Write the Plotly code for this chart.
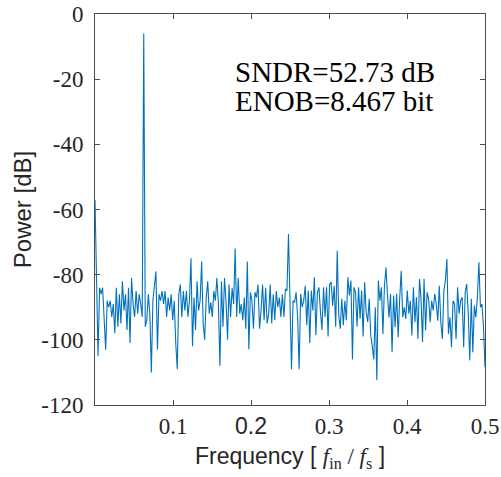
import plotly.graph_objects as go
import numpy as np

# Power spectrum values [dB] (bins 0..256)
power_a = [-57, -87, -105, -84, -86, -84, -96, -103, -88, -90, -88, -93, -89, -98, -84, -96,
           -86, -95, -82, -91, -86, -97, -84, -101, -81, -89, -93, -85, -92, -86, -89, -93,
           -6, -96, -94, -86, -92, -110, -88, -84, -79, -103, -86, -88, -85, -89, -85, -93,
           -87, -91, -86, -94, -88, -101, -109, -86, -83, -93, -85, -91, -85, -93, -88]
power_b = [-75, -102, -87, -97, -82, -91, -88, -76, -95, -100, -87, -82, -92, -88.5, -93, -85,
           -88, -81, -89, -108, -82, -96, -81, -88, -100, -83, -93, -84, -89, -72, -93, -81,
           -92, -89, -94, -87, -96.6, -76, -103, -85.4, -88, -96.6, -85.4, -87, -83, -96.6, -91, -83,
           -94, -84, -95, -92, -83, -95, -86, -94, -85, -90, -87, -93, -86]
power_c = [-93, -84.4, -84.9, -67.5, -90.5, -109, -88, -88.5, -85.4, -93, -109, -85.9, -90, -88, -83.4, -95.5,
           -84.9, -101, -84.9, -91, -80.8, -98.6, -85.4, -83.9, -91.5, -97, -83.9, -93, -83.9, -99, -82.9, -82.3,
           -89.5, -83.4, -96, -72.7, -92.5, -96.6, -87.4, -95.5, -88, -94, -80.8, -86.4, -81.8, -106, -83.9, -85.4,
           -96, -83.9, -93.5, -84.9, -99, -82.3, -91.5, -94.5, -87.4, -98.6, -102, -106, -90, -112.4, -81.8, -88]
power_d = [-83.9, -98.2, -83.4, -77.8, -86.4, -93.1, -85.9, -103.8, -86.4, -96.1, -85.9, -99.2, -87.4, -78.8, -93.1, -90,
           -93.6, -84.9, -92, -88, -98.7, -83.9, -94.6, -86.9, -99.7, -81.3, -87.4, -100.7, -81.3, -97.1, -85.4, -87.4,
           -94.6, -88, -91, -85.9, -89, -94.1, -83.4, -94.6, -99.7, -84.9, -81.8, -75.2, -98.2, -93.1, -102.3, -88,
           -89, -99.7, -83.9, -92, -88, -86.9, -102.3, -85.4, -82.9, -92, -106.3, -87.4, -103.8, -89.5, -93.1, -86.9,
           -76.2, -90, -89, -96.1, -108.4]
power = power_a + power_b + power_c + power_d
nfft_half = 512  # bins per unit of normalized frequency
freq = np.arange(len(power)) / nfft_half

x_tickvals = [0.1, 0.2, 0.3, 0.4, 0.5]
x_ticktext = ["0.1", "<span style='font-family:Liberation Sans, Arial'>0.2</span>", "0.3", "0.4", "0.5"]
y_tickvals = [0, -20, -40, -60, -80, -100, -120]
y_ticktext = ["0", "-20", "-40", "-60", "-80", "-100", "-120"]

serif = "Liberation Serif, Times New Roman, serif"
sans = "Liberation Sans, Arial, sans-serif"
axcol = "#4d4d4d"

fig = go.Figure()
fig.add_trace(go.Scatter(x=freq, y=power, mode="lines",
                         line=dict(color="#0072BD", width=1.1), showlegend=False))

fig.update_layout(
    width=501, height=477,
    margin=dict(l=95, r=16, t=14, b=72),
    plot_bgcolor="white", paper_bgcolor="white",
    font=dict(family=serif, size=23, color="#262626"),
    xaxis=dict(range=[0, 0.5], tickvals=x_tickvals, ticktext=x_ticktext, automargin=False,
               ticks="inside", ticklen=5, tickcolor=axcol, mirror="ticks", ticklabeloverflow="allow",
               showline=True, linecolor=axcol, linewidth=1, showgrid=False, zeroline=False,
               tickfont=dict(family=serif, size=23, color="#262626"),
               title=dict(text="Frequency [ <span style='font-family:Liberation Serif'><i>f</i><sub>in</sub> / <i>f</i><sub>s</sub></span> ]",
                          font=dict(family=sans, size=23, color="#262626"), standoff=10)),
    yaxis=dict(range=[-120, 0], tickvals=y_tickvals, ticktext=y_ticktext, automargin=False,
               ticks="inside", ticklen=5, tickcolor=axcol, mirror="ticks", ticklabeloverflow="allow",
               showline=True, linecolor=axcol, linewidth=1, showgrid=False, zeroline=False,
               tickfont=dict(family=serif, size=23, color="#262626"), ticklabelstandoff=6,
               title=dict(text="Power [dB]", font=dict(family=sans, size=24, color="#262626"), standoff=2)),
)

fig.add_annotation(x=0.177, y=-17.8, xref="x", yref="y", text="SNDR=52.73 dB",
                   showarrow=False, xanchor="left", yanchor="middle",
                   font=dict(family=serif, size=29, color="black"))
fig.add_annotation(x=0.177, y=-26.6, xref="x", yref="y", text="ENOB=8.467 bit",
                   showarrow=False, xanchor="left", yanchor="middle",
                   font=dict(family=serif, size=29, color="black"))

fig.write_html("out.html", config={"displayModeBar": False},
               post_script="document.body.style.margin='0px';document.body.style.overflow='hidden';")
